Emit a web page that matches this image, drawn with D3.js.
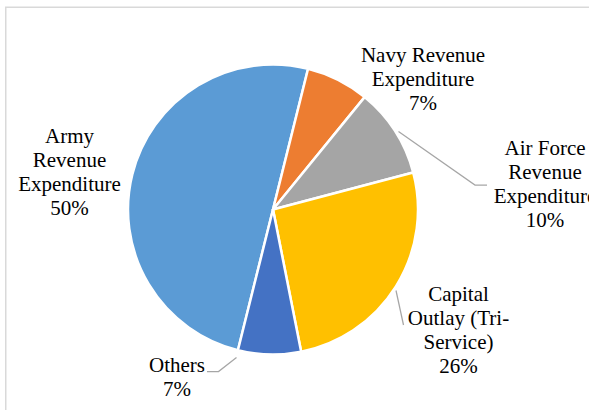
<!DOCTYPE html>
<html>
<head>
<meta charset="utf-8">
<script src="https://cdn.jsdelivr.net/npm/d3@7"></script>
<style>
  html, body { margin: 0; padding: 0; background: #fff; overflow: hidden; }
  svg { display: block; }
</style>
</head>
<body>
<svg id="chart" width="589" height="410"></svg>
<script>
// Defence expenditure shares
const categories = [
  "Army Revenue Expenditure",
  "Navy Revenue Expenditure",
  "Air Force Revenue Expenditure",
  "Capital Outlay (Tri-Service)",
  "Others"
];
const shares = [50, 7, 10, 26, 7];
const colors = ["#5B9BD5", "#ED7D31", "#A5A5A5", "#FFC000", "#4472C4"];

// Label text lines (without the percentage) and label anchor points
const labelLines = [
  ["Army", "Revenue", "Expenditure"],
  ["Navy Revenue", "Expenditure"],
  ["Air Force", "Revenue", "Expenditure"],
  ["Capital", "Outlay (Tri-", "Service)"],
  ["Others"]
];
const labelPos = [
  [69.5, 142.5],
  [423, 62],
  [545, 155],
  [458.5, 301],
  [177, 372]
];
// Leader lines (only for labels placed away from their slice)
const leaders = [
  null,
  null,
  [[398.5, 131.5], [475, 185], [487, 185]],
  [[396, 290.5], [403.5, 325]],
  [[236.5, 357.5], [218.5, 371.5], [207, 371.5]]
];

const fontStack = "'Liberation Serif', Tinos, 'Times New Roman', Times, 'Noto Serif', 'DejaVu Serif', FreeSerif, serif";

const svg = d3.select("#chart");
const cx = 273, cy = 209.5, radius = 145;
const lineH = 24;

// Chart area frame
svg.append("rect")
  .attr("x", 5.75).attr("y", 7.25)
  .attr("width", 640).attr("height", 460)
  .attr("fill", "none")
  .attr("stroke", "#d9d9d9")
  .attr("stroke-width", 1.5);

const startDeg = 194;
const pie = d3.pie()
  .sort(null)
  .value(d => d)
  .startAngle(startDeg * Math.PI / 180)
  .endAngle((startDeg + 360) * Math.PI / 180);

const arc = d3.arc().innerRadius(0).outerRadius(radius);

const g = svg.append("g").attr("transform", `translate(${cx},${cy})`);
g.selectAll("path.slice")
  .data(pie(shares))
  .join("path")
  .attr("class", "slice")
  .attr("d", arc)
  .attr("fill", (d, i) => colors[i])
  .attr("stroke", "#fff")
  .attr("stroke-width", 2.5)
  .attr("stroke-linejoin", "round");

// Leader lines
const line = d3.line();
leaders.forEach(pts => {
  if (!pts) return;
  svg.append("path")
    .attr("d", line(pts))
    .attr("fill", "none")
    .attr("stroke", "#a6a6a6")
    .attr("stroke-width", 1.25);
});

// Data labels
categories.forEach((c, i) => {
  const lines = labelLines[i].concat([shares[i] + "%"]);
  const t = svg.append("text")
    .attr("font-family", fontStack)
    .attr("font-size", 21)
    .attr("fill", "#000")
    .attr("text-anchor", "middle")
    .attr("x", labelPos[i][0])
    .attr("y", labelPos[i][1]);
  lines.forEach((s, k) => {
    t.append("tspan")
      .attr("x", labelPos[i][0])
      .attr("dy", k === 0 ? 0 : lineH)
      .text(s);
  });
});
</script>
</body>
</html>
